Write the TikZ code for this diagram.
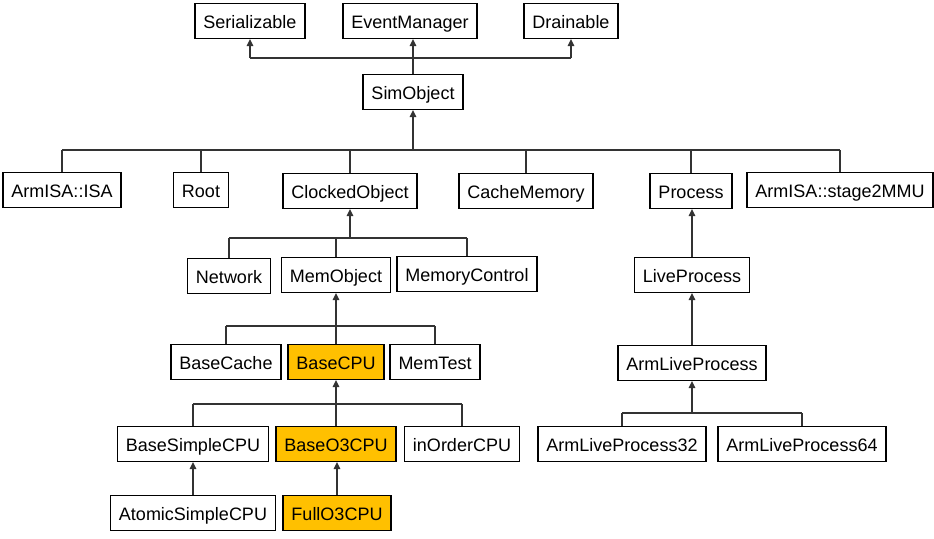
\documentclass[tikz,border=0pt]{standalone}
\usepackage{fontspec}
\setmainfont{Liberation Sans}
\usetikzlibrary{arrows.meta}
\definecolor{cpuorange}{HTML}{FFC000}

\begin{document}
\begin{tikzpicture}[x=1pt, y=-1pt,
  box/.style={draw, line width=1.2pt, fill=white, inner xsep=8.5pt, inner ysep=0pt,
    minimum height=35pt, text height=14pt, text depth=0pt,
    font=\fontsize{18}{21}\selectfont},
  hot/.style={box, fill=cpuorange},
  link/.style={line width=1.5pt, black!80},
  up/.style={link, -{Triangle[length=7pt,width=6.5pt]}}]
\useasboundingbox (0,0) rectangle (934,538);

% Level 0: interfaces
\node[box] (serial) at (250,21) {Serializable};
\node[box] (evt) at (410,21) {EventManager};
\node[box] (drain) at (571,21) {Drainable};

% Level 1: SimObject
\node[box] (simobj) at (413,92) {SimObject};

% Level 2: children of SimObject
\node[box] (isa) at (62,190) {ArmISA::ISA};
\node[box] (root) at (201,190) {Root};
\node[box] (clocked) at (350,191) {ClockedObject};
\node[box] (cache) at (526,191) {CacheMemory};
\node[box] (proc) at (691,191) {Process};
\node[box] (mmu) at (840,190) {ArmISA::stage2MMU};

% Level 3: children of ClockedObject
\node[box] (net) at (229,276) {Network};
\node[box] (memobj) at (336,275) {MemObject};
\node[box] (memctrl) at (467,274) {MemoryControl};

% Level 4: children of MemObject
\node[box] (bcache) at (226,362) {BaseCache};
\node[hot] (bcpu) at (336,362) {BaseCPU};
\node[box] (mtest) at (435,362) {MemTest};

% Level 5: children of BaseCPU
\node[box] (simple) at (193,444) {BaseSimpleCPU};
\node[hot] (o3) at (336,444) {BaseO3CPU};
\node[box] (inorder) at (462,444) {inOrderCPU};

% Level 6
\node[box] (atomic) at (193,513) {AtomicSimpleCPU};
\node[hot] (full) at (337,513) {FullO3CPU};

% Process branch
\node[box] (live) at (692,275) {LiveProcess};
\node[box] (armlive) at (692,363) {ArmLiveProcess};
\node[box] (arm32) at (622,444) {ArmLiveProcess32};
\node[box] (arm64) at (802,444) {ArmLiveProcess64};

% Bus points
\coordinate (b0) at (413,58);
\coordinate (b1) at (413,150);
\coordinate (b2) at (350,238);
\coordinate (b3) at (336,326);
\coordinate (b4) at (336,404);
\coordinate (b5) at (692,413);

% SimObject to interfaces
\draw[up] (simobj.north) -- (simobj.north |- evt.south);
\draw[link] (b0 -| serial) -- (b0 -| drain);
\draw[up] (b0 -| serial) -- (serial.south);
\draw[up] (b0 -| drain) -- (drain.south);

% Level 2 to SimObject
\draw[up] (b1) -- (simobj.south);
\draw[link] (b1 -| isa) -- (b1 -| mmu);
\foreach \n in {isa,root,clocked,cache,proc,mmu}
  \draw[link] (b1 -| \n) -- (\n.north);

% Level 3 to ClockedObject
\draw[up] (b2) -- (clocked.south);
\draw[link] (b2 -| net) -- (b2 -| memctrl);
\foreach \n in {net,memobj,memctrl}
  \draw[link] (b2 -| \n) -- (\n.north);

% Level 4 to MemObject
\draw[up] (b3) -- (memobj.south);
\draw[link] (b3 -| bcache) -- (b3 -| mtest);
\foreach \n in {bcache,bcpu,mtest}
  \draw[link] (b3 -| \n) -- (\n.north);

% Level 5 to BaseCPU
\draw[up] (b4) -- (bcpu.south);
\draw[link] (b4 -| simple) -- (b4 -| inorder);
\foreach \n in {simple,o3,inorder}
  \draw[link] (b4 -| \n) -- (\n.north);

% Level 6
\draw[up] (atomic.north) -- (simple.south);
\draw[up] (full.north) -- (full.north |- o3.south);

% Process branch
\draw[up] (live.north) -- (live.north |- proc.south);
\draw[up] (armlive.north) -- (live.south);
\draw[up] (b5) -- (armlive.south);
\draw[link] (b5 -| arm32) -- (b5 -| arm64);
\foreach \n in {arm32,arm64}
  \draw[link] (b5 -| \n) -- (\n.north);
\end{tikzpicture}
\end{document}
